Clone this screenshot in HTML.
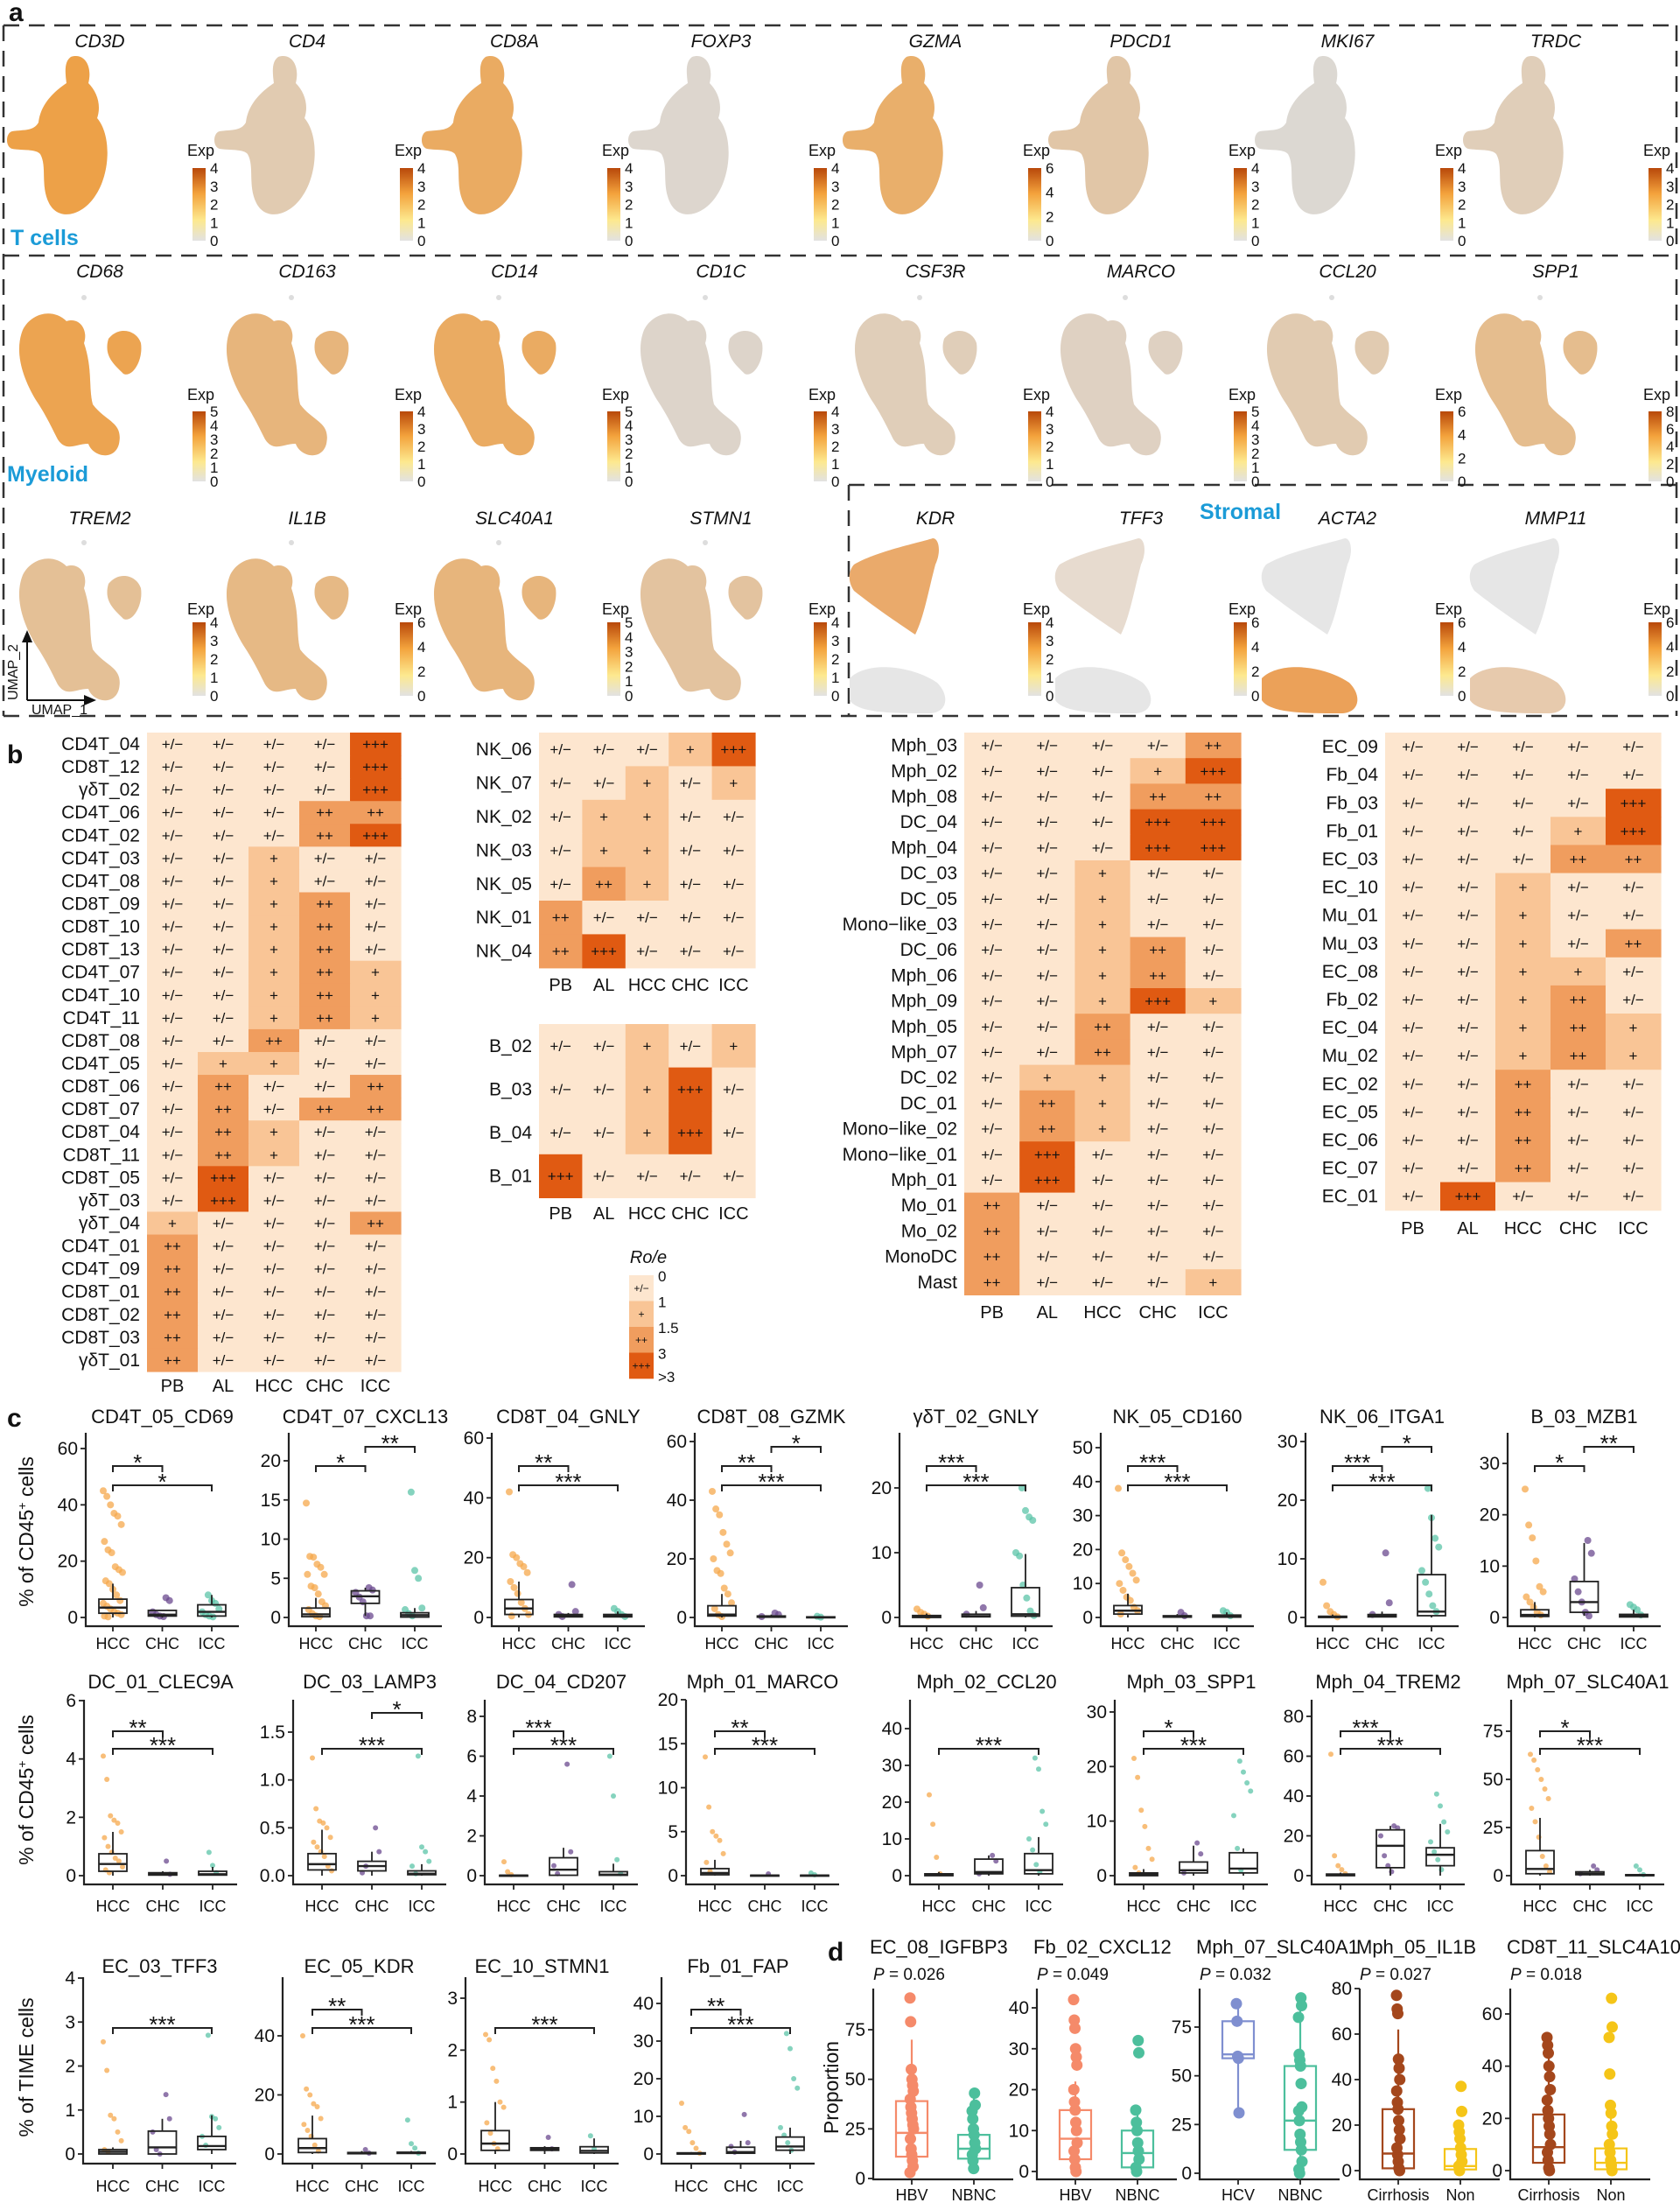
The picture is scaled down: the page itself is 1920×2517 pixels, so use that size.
<!DOCTYPE html>
<html>
<head>
<meta charset="utf-8">
<style>
html,body{margin:0;padding:0;background:#fff;}
svg{display:block;}
text{font-family:"Liberation Sans",Arial,sans-serif;}
</style>
</head>
<body>
<svg id="fig" xmlns="http://www.w3.org/2000/svg" width="1920" height="2517" viewBox="0 0 1920 2517">
<defs>
<linearGradient id="cbar" x1="0" y1="1" x2="0" y2="0">
<stop offset="0" stop-color="#e2e2e2"/><stop offset="0.28" stop-color="#fde98f"/><stop offset="0.65" stop-color="#f3a23c"/><stop offset="1" stop-color="#b8480a"/>
</linearGradient>
</defs>
</svg>
<script>
// ================= DATA =================
// Panel a
const aRow1Genes = ['CD3D','CD4','CD8A','FOXP3','GZMA','PDCD1','MKI67','TRDC'];
const aRow1Max = [4,4,4,4,6,4,4,4];
const aRow1Int = [0.85,0.25,0.7,0.08,0.65,0.3,0.05,0.2];
const aRow2Genes = ['CD68','CD163','CD14','CD1C','CSF3R','MARCO','CCL20','SPP1'];
const aRow2Max = [5,4,5,4,4,5,6,8];
const aRow2Int = [0.8,0.55,0.7,0.1,0.2,0.15,0.25,0.45];
const aRow3Genes = ['TREM2','IL1B','SLC40A1','STMN1','KDR','TFF3','ACTA2','MMP11'];
const aRow3Max = [4,6,5,4,4,6,6,6];
const aRow3Int = [0.4,0.5,0.55,0.35,0.65,0.12,0.75,0.3];
const aRow3Region = ['','','','','top','top','bottom','bottom'];

// Panel b heatmaps (0:+/-, 1:+, 2:++, 3:+++)
const hmCols = ['PB','AL','HCC','CHC','ICC'];
const hmT_rows = ['CD4T_04','CD8T_12','γδT_02','CD4T_06','CD4T_02','CD4T_03','CD4T_08','CD8T_09','CD8T_10','CD8T_13','CD4T_07','CD4T_10','CD4T_11','CD8T_08','CD4T_05','CD8T_06','CD8T_07','CD8T_04','CD8T_11','CD8T_05','γδT_03','γδT_04','CD4T_01','CD4T_09','CD8T_01','CD8T_02','CD8T_03','γδT_01'];
const hmT_vals = [[0,0,0,0,3],[0,0,0,0,3],[0,0,0,0,3],[0,0,0,2,2],[0,0,0,2,3],[0,0,1,0,0],[0,0,1,0,0],[0,0,1,2,0],[0,0,1,2,0],[0,0,1,2,0],[0,0,1,2,1],[0,0,1,2,1],[0,0,1,2,1],[0,0,2,0,0],[0,1,1,0,0],[0,2,0,0,2],[0,2,0,2,2],[0,2,1,0,0],[0,2,1,0,0],[0,3,0,0,0],[0,3,0,0,0],[1,0,0,0,2],[2,0,0,0,0],[2,0,0,0,0],[2,0,0,0,0],[2,0,0,0,0],[2,0,0,0,0],[2,0,0,0,0]];
const hmNK_rows = ['NK_06','NK_07','NK_02','NK_03','NK_05','NK_01','NK_04'];
const hmNK_vals = [[0,0,0,1,3],[0,0,1,0,1],[0,1,1,0,0],[0,1,1,0,0],[0,2,1,0,0],[2,0,0,0,0],[2,3,0,0,0]];
const hmB_rows = ['B_02','B_03','B_04','B_01'];
const hmB_vals = [[0,0,1,0,1],[0,0,1,3,0],[0,0,1,3,0],[3,0,0,0,0]];
const hmM_rows = ['Mph_03','Mph_02','Mph_08','DC_04','Mph_04','DC_03','DC_05','Mono−like_03','DC_06','Mph_06','Mph_09','Mph_05','Mph_07','DC_02','DC_01','Mono−like_02','Mono−like_01','Mph_01','Mo_01','Mo_02','MonoDC','Mast'];
const hmM_vals = [[0,0,0,0,2],[0,0,0,1,3],[0,0,0,2,2],[0,0,0,3,3],[0,0,0,3,3],[0,0,1,0,0],[0,0,1,0,0],[0,0,1,0,0],[0,0,1,2,0],[0,0,1,2,0],[0,0,1,3,1],[0,0,2,0,0],[0,0,2,0,0],[0,1,1,0,0],[0,2,1,0,0],[0,2,1,0,0],[0,3,0,0,0],[0,3,0,0,0],[2,0,0,0,0],[2,0,0,0,0],[2,0,0,0,0],[2,0,0,0,1]];
const hmS_rows = ['EC_09','Fb_04','Fb_03','Fb_01','EC_03','EC_10','Mu_01','Mu_03','EC_08','Fb_02','EC_04','Mu_02','EC_02','EC_05','EC_06','EC_07','EC_01'];
const hmS_vals = [[0,0,0,0,0],[0,0,0,0,0],[0,0,0,0,3],[0,0,0,1,3],[0,0,0,2,2],[0,0,1,0,0],[0,0,1,0,0],[0,0,1,0,2],[0,0,1,1,0],[0,0,1,2,0],[0,0,1,2,1],[0,0,1,2,1],[0,0,2,0,0],[0,0,2,0,0],[0,0,2,0,0],[0,0,2,0,0],[0,3,0,0,0]];
const legendLabels = ['0','1','1.5','3','>3'];

// Panel c row 1
const cGroups = ['HCC','CHC','ICC'];
const cR1_titles = ['CD4T_05_CD69','CD4T_07_CXCL13','CD8T_04_GNLY','CD8T_08_GZMK','γδT_02_GNLY','NK_05_CD160','NK_06_ITGA1','B_03_MZB1'];
const cR1_ticks = [[0,20,40,60],[0,5,10,15,20],[0,20,40,60],[0,20,40,60],[0,10,20],[0,10,20,30,40,50],[0,10,20,30],[0,10,20,30]];
const cR1_stats = [
 [[0,1.5,3.5,6.5,12],[0,0.5,1,2.5,2.5],[0,0.5,2,4.5,8]],
 [[0,0.1,0.4,1.2,2.5],[0.2,1.8,2.7,3.4,3.8],[0,0.05,0.3,0.6,1.2]],
 [[0,1,3,6,12],[0,0.2,0.5,1,1.5],[0,0.2,0.5,1,2]],
 [[0,0.5,1,4,8],[0,0.1,0.3,0.5,1],[0,0,0.1,0.2,0.3]],
 [[0,0,0.1,0.3,0.6],[0,0.1,0.2,0.5,1],[0,0.2,0.5,4.6,9.8]],
 [[0,1,2,3.5,7],[0,0.1,0.3,0.5,1],[0,0.1,0.4,0.7,1.5]],
 [[0,0,0.1,0.2,0.5],[0,0.1,0.3,0.5,1],[0,0.3,1,7.3,17.5]],
 [[0,0.2,0.5,1.5,3],[0.3,1,3,7,14.5],[0,0.1,0.3,0.6,1.5]]];
const cR1_points = [
 [[45,43,40,37,36,33,27,24,23,18,17,16,13,12,10,8,6,5,4,3,2,1.5,1,0.5,0.2],[7,6,2,1,0.5,0.3],[8,6,5,3,2,1,0.5,0.2]],
 [[14.6,7.8,7.7,6.8,6.4,5.5,5.5,4,3.8,3,2,1.5,1,0.5,0.2,0.1],[3.8,3.5,3.2,2.6,2,0.2,0.2],[16,6,5,1.2,1,0.5,0.2]],
 [[42,21,20,18,17,15,12,10,8,5,3,1,0.5],[11,2,1,0.3],[3,2,1,0.3]],
 [[43,37,35,29,25,22,20,16,15,10,8,5,3,1,0.3],[1.5,1,0.3],[0.4,0.1]],
 [[1.3,0.8,0.5,0.2],[5,1.5,0.5],[20,16.5,15.5,15,10,9.5,5,3,1,0.3]],
 [[38,19,17,15,13,11,10,8,6,5,3,2,1],[1.5,0.5],[2,1.5,0.5]],
 [[6,2,1,0.5,0.1],[11,2.5,0.5],[22,17,13.5,12,8,6,4,2,1]],
 [[25,18,15.5,11,6,5,4,3,2,1,0.5],[15,12.5,7.5,5,3,1,0.3],[2.5,2,1.5,0.5]]];
const cR1_sigs = [
 [[0,1,'*',1],[0,2,'*',0]],
 [[0,1,'*',1],[1,2,'**',2]],
 [[0,1,'**',1],[0,2,'***',0]],
 [[0,1,'**',1],[1,2,'*',2],[0,2,'***',0]],
 [[0,1,'***',1],[0,2,'***',0]],
 [[0,1,'***',1],[0,2,'***',0]],
 [[0,1,'***',1],[1,2,'*',2],[0,2,'***',0]],
 [[0,1,'*',1],[1,2,'**',2]]];

// Panel c row 2
const cR2_titles = ['DC_01_CLEC9A','DC_03_LAMP3','DC_04_CD207','Mph_01_MARCO','Mph_02_CCL20','Mph_03_SPP1','Mph_04_TREM2','Mph_07_SLC40A1'];
const cR2_ticks = [[0,2,4,6],[0,0.5,1,1.5],[0,2,4,6,8],[0,5,10,15,20],[0,10,20,30,40],[0,10,20,30],[0,20,40,60,80],[0,25,50,75]];
const cR2_stats = [
 [[0,0.15,0.4,0.75,1.5],[0,0.02,0.05,0.1,0.15],[0,0.02,0.05,0.15,0.3]],
 [[0,0.06,0.12,0.23,0.48],[0,0.05,0.1,0.15,0.25],[0,0.01,0.02,0.05,0.12]],
 [[0,0,0.01,0.02,0.05],[0,0.02,0.3,0.9,1.4],[0,0.02,0.05,0.2,0.6]],
 [[0,0.1,0.3,0.8,1.8],[0,0,0.02,0.05,0.1],[0,0.01,0.02,0.05,0.1]],
 [[0,0,0.2,0.5,1],[0,0.5,1,4.5,5.5],[0,0.5,1.5,6,10.5]],
 [[0,0,0.2,0.5,1.2],[0,0.5,1,2.5,5.5],[0,0.5,1.3,4.2,5]],
 [[0,0,0.3,0.8,1.5],[0,4,15,23,25],[0,5,10.5,14,26]],
 [[0,1,3.5,13,30],[0,0.5,1,2,3],[0,0,0.2,0.5,1]]];
const cR2_points = [
 [[4.1,3.3,2.05,1.9,1.8,1.5,1.3,1,0.8,0.6,0.5,0.3,0.2,0.1],[0.5,0.05],[0.8,0.35,0.1]],
 [[1.23,0.7,0.57,0.55,0.5,0.4,0.35,0.3,0.25,0.2,0.1,0.05],[0.5,0.25,0.03,0.1],[1.25,0.3,0.25,0.15,0.1,0.02]],
 [[0.7,0.2,0.05],[5.6,1.2,0.5,0.1],[6,4,0.8,0.1]],
 [[13.5,7.8,5,4.5,4,2.5,1.5,0.5],[0.2],[0.3,0.1]],
 [[22,14,5,0.5],[5.5,4,0.5],[32,29,17.5,14,10,7,3,1]],
 [[21.5,18,12,9,5,3,1.5,0.5],[6,4,0.5],[21,19,17,15.5,11,5,1]],
 [[61,10,5,3,1],[25,24,20,10,5,2],[41,35,27,22,17,12,8,3]],
 [[63,60,55,50,45,40,35,28,20,10,5,2],[5,3,1],[5,3,0.5]]];
const cR2_sigs = [
 [[0,1,'**',1],[0,2,'***',0]],
 [[1,2,'*',2],[0,2,'***',0]],
 [[0,1,'***',1],[0,2,'***',0]],
 [[0,1,'**',1],[0,2,'***',0]],
 [[0,2,'***',0]],
 [[0,1,'*',1],[0,2,'***',0]],
 [[0,1,'***',1],[0,2,'***',0]],
 [[0,1,'*',1],[0,2,'***',0]]];

// Panel c row 3
const cR3_titles = ['EC_03_TFF3','EC_05_KDR','EC_10_STMN1','Fb_01_FAP'];
const cR3_ticks = [[0,1,2,3,4],[0,20,40],[0,1,2,3],[0,10,20,30,40]];
const cR3_stats = [
 [[0,0,0.05,0.1,0.15],[0,0,0.15,0.52,0.8],[0,0.1,0.18,0.4,0.88]],
 [[0,0.5,2,5.2,13],[0,0.1,0.3,0.5,1],[0,0.2,0.4,0.6,1]],
 [[0,0.07,0.2,0.45,1],[0,0.07,0.1,0.12,0.15],[0,0.02,0.06,0.14,0.3]],
 [[0,0,0.1,0.3,0.5],[0,0.2,0.5,1.8,3.5],[0,1,2,4.5,7]]];
const cR3_points = [
 [[2.55,1.9,0.88,0.8,0.5,0.3,0.1,0.05],[1.35,0.8,0.5,0.1,0],[2.7,0.85,0.8,0.6,0.4,0.2]],
 [[40,22,20,17,16,12,10,8,6,3,1],[1.5,0.3],[11.5,3.5,2,0.3]],
 [[2.3,2.2,1.65,1.4,1,0.9,0.6,0.4,0.2,0.1],[0.32,0.1],[0.35,0.1]],
 [[13.5,7,6,3,1.5,0.2],[10.5,3,2,0.5],[32,28,20,17.5,7,5,3,1]]];
const cR3_sigs = [
 [[0,2,'***',0]],
 [[0,1,'**',1],[0,2,'***',0]],
 [[0,2,'***',0]],
 [[0,1,'**',1],[0,2,'***',0]]];

// Panel d
const dTitles = ['EC_08_IGFBP3','Fb_02_CXCL12','Mph_07_SLC40A1','Mph_05_IL1B','CD8T_11_SLC4A10'];
const dPvals = ['0.026','0.049','0.032','0.027','0.018'];
const dGroups = [['HBV','NBNC'],['HBV','NBNC'],['HCV','NBNC'],['Cirrhosis','Non'],['Cirrhosis','Non']];
const dTicks = [[0,25,50,75],[0,10,20,30,40],[0,25,50,75],[0,20,40,60,80],[0,20,40,60]];
const dStats = [
 [[3,11,23,39,70],[5,10,15,22,43]],
 [[0,3,8,15,22],[0,1,4.5,10,15]],
 [[31,59,61,78,87],[0,12,27,55,90]],
 [[0,1,7.5,27,62],[0,0.5,2,9.5,20]],
 [[0,3,9,21.5,51],[0,0.5,3,8.5,20]]];
const dPoints = [
 [[91,79,55,50,47,44,40,36,33,30,27,25,20,15,12,9,6,3],[43,37,34,30,25,22,18,15,12,9,5]],
 [[42,37,35,30,28,26,20,17,15,12,10,7,5,3,1,0],[32,29,15,12,10,7,5,3,1,0]],
 [[87,78,60,59,31],[90,86,80,61,58,55,46,34,32,27,20,16,12,6,2,0]],
 [[77,71,69,49,45,40,35,30,27,22,18,14,10,7,4,1,0],[37,26,20,17,14,10,7,4,2,0]],
 [[51,48,45,40,36,31,27,23,20,17,14,10,7,4,1,0],[66,55,51,37,25,22,17,14,10,7,4,2,0]]];

// ================= DRAW =================
const NS = 'http://www.w3.org/2000/svg';
const svg = document.getElementById('fig');
function mk(tag, attrs, parent){
  const e = document.createElementNS(NS, tag);
  for (const k in attrs) e.setAttribute(k, attrs[k]);
  (parent || svg).appendChild(e);
  return e;
}
function txt(x, y, s, size, anchor, parent, extra){
  const t = mk('text', Object.assign({x:x, y:y, 'font-size':size, 'text-anchor':anchor||'start', fill:'#111'}, extra||{}), parent);
  t.textContent = s;
  return t;
}

// ---------- Panel labels ----------
[['a',10,24],['b',8,872],['c',8,1630],['d',946,2240]].forEach(p=>{
  const t = txt(p[1], p[2], p[0], 30, 'start', svg, {'font-weight':'bold'});
  
  
});

// ---------- Panel a ----------
const gA = mk('g', {});


const dashAttr = {stroke:'#333', 'stroke-width':2.5, 'stroke-dasharray':'18 11', fill:'none'};
[['M4,29 H1916'],['M4,292 H1916'],['M970,554 H1916'],['M4,818 H1916'],['M4,29 V818'],['M1916,29 V818'],['M970,554 V818']].forEach((d,i)=>{
  const p = mk('path', Object.assign({d:d[0]}, dashAttr), gA);
  
  
});
const colCenters = [114,351,588,824,1069,1304,1540,1778];
const tPath = "M75,5 C90,0 100,15 95,35 C105,45 110,60 105,75 C122,95 120,140 102,165 C86,188 60,192 50,172 C40,152 48,130 40,116 C35,110 20,112 8,110 C0,108 0,92 8,90 C22,88 32,90 38,80 C40,60 55,45 70,35 C68,20 68,10 75,5 Z";
const mPath = "M20,45 C30,25 55,20 70,35 C85,30 95,45 90,60 C100,90 95,110 100,130 C115,150 135,150 130,175 C125,195 100,190 95,175 C80,175 70,185 60,170 C50,150 45,140 35,125 C20,100 10,70 20,45 Z M118,55 C130,40 150,45 155,60 C158,80 145,100 135,95 C125,85 112,75 118,55 Z";
const sTop = "M15,30 C40,15 90,5 105,0 C112,0 115,15 108,30 C100,60 95,90 85,110 C70,100 40,80 15,60 C8,50 8,38 15,30 Z";
const sBot = "M10,160 C30,140 80,145 110,165 C125,180 122,200 100,200 C60,200 20,200 10,185 Z";

function colorbar(cx, top, bot, expY, max, gene){
  const g = mk('g', {}, gA);
  
  
  txt(cx+100, expY, 'Exp', 18, 'start', g);
  mk('rect', {x:cx+106, y:top, width:15, height:bot-top, fill:'url(#cbar)'}, g);
  const step = max > 4 && max % 2 === 0 && max !== 4 ? 2 : 1;
  for (let v = 0; v <= max; v += step){
    const y = bot - (v/max)*(bot-top);
    txt(cx+126, y+6, String(v), 17, 'start', g);
  }
}
function umap(cx, oy, path, intensity, gene, kind, region){
  const g = mk('g', {transform:'translate(' + (cx-108) + ',' + oy + ')'}, gA);
  
  
  if (kind === 's'){
    mk('path', {d:sTop, fill:'#e6e6e6'}, g);
    mk('path', {d:sBot, fill:'#e6e6e6'}, g);
    mk('path', {d: region==='top'? sTop : sBot, fill:'#ec8a2a', 'fill-opacity':intensity}, g);
  } else {
    mk('path', {d:path, fill:'#dcdcdc'}, g);
    mk('path', {d:path, fill:'#f0962e', 'fill-opacity':intensity}, g);
    if (kind === 'm') mk('circle', {cx:90, cy:8, r:3, fill:'#ddd'}, g);
  }
}
aRow1Genes.forEach((gname,i)=>{
  const cx = colCenters[i];
  const t = txt(cx, 54, gname, 21, 'middle', gA, {'font-style':'italic'});
  
  
  umap(cx, 60, tPath, aRow1Int[i], gname, 't');
  colorbar(cx, 192, 275, 178, aRow1Max[i], gname);
});
aRow2Genes.forEach((gname,i)=>{
  const cx = colCenters[i];
  const t = txt(cx, 317, gname, 21, 'middle', gA, {'font-style':'italic'});
  
  
  umap(cx, 332, mPath, aRow2Int[i], gname, 'm');
  colorbar(cx, 470, 550, 457, aRow2Max[i], gname);
});
aRow3Genes.forEach((gname,i)=>{
  const cx = colCenters[i];
  const t = txt(cx, 599, gname, 21, 'middle', gA, {'font-style':'italic'});
  
  
  if (aRow3Region[i]) umap(cx, 615, null, aRow3Int[i], gname, 's', aRow3Region[i]);
  else umap(cx, 612, mPath, aRow3Int[i], gname, 'm');
  colorbar(cx, 711, 795, 702, aRow3Max[i], gname);
});
[['T cells',12,280],['Myeloid',8,550],['Stromal',1371,593]].forEach(l=>{
  const t = txt(l[1], l[2], l[0], 25, 'start', gA, {fill:'#1b9bd7', 'font-weight':'bold'});
  
  
});
const ax = mk('path', {d:'M31,800 V726 M31,800 H104', stroke:'#111', 'stroke-width':2, fill:'none'}, gA);


mk('path', {d:'M25,734 L31,720 L37,734 Z M96,794 L110,800 L96,806 Z', fill:'#111'}, gA);
txt(20, 800, 'UMAP_2', 16, 'start', gA, {transform:'rotate(-90 20 800)'});
txt(36, 816, 'UMAP_1', 16, 'start', gA);

// ---------- Panel b heatmaps ----------
const hmColors = ['#fde6cf','#f9c596','#f09d5e','#e05a12'];
const hmText = ['+/−','+','++','+++'];
function heatmap(name, rows, vals, x0, y0, cw, rh, colLabelY){
  const g = mk('g', {});
  
  
  rows.forEach((r, ri)=>{
    const y = y0 + ri*rh;
    const lab = txt(x0-8, y + rh/2 + 7, r, 21, 'end', g);
    
    
    vals[ri].forEach((v, ci)=>{
      const x = x0 + ci*cw;
      const c = mk('rect', {x:x, y:y, width:cw+0.6, height:rh+0.6, fill:hmColors[v]}, g);
      
      
      txt(x + cw/2, y + rh/2 + 6, hmText[v], 17, 'middle', g);
    });
  });
  hmCols.forEach((c, ci)=>{
    const t = txt(x0 + ci*cw + cw/2, colLabelY, c, 20, 'middle', g);
    
    
  });
}
heatmap('t-cells', hmT_rows, hmT_vals, 168, 837, 58, 26.07, 1590);
heatmap('nk', hmNK_rows, hmNK_vals, 616, 837, 49.4, 38.4, 1132);
heatmap('b-cells', hmB_rows, hmB_vals, 616, 1170, 49.4, 49.6, 1393);
heatmap('myeloid', hmM_rows, hmM_vals, 1102, 837, 63.2, 29.2, 1506);
heatmap('stromal', hmS_rows, hmS_vals, 1583, 837, 63, 32.1, 1410);
(function(){
  const g = mk('g', {});
  
  
  txt(741, 1443, 'Ro/e', 20, 'middle', g, {'font-style':'italic'});
  for (let i=0;i<4;i++){
    const y = 1457 + i*29.5;
    mk('rect', {x:719, y:y, width:28, height:29.8, fill:hmColors[i]}, g);
    txt(733, y+19, hmText[i], 12, 'middle', g);
  }
  legendLabels.forEach((l,i)=>{
    const y = i < 4 ? 1457 + i*29.5 : 1572;
    txt(752, y+7, l, 17, 'start', g);
  });
})();

// ---------- Box plots ----------
const grpColors = ['#f5a84c','#6b4a8f','#5cc4a8'];
function boxPanel(o){
  const g = mk('g', {});
  
  
  const top = o.ticks[o.ticks.length-1];
  const yS = v => o.zeroY - (v/top)*(o.zeroY - o.topY);
  const xG = i => o.axisX + o.offset + i*o.spacing;
  const dec = o.ticks.some(t => t % 1 !== 0);
  // title
  const tt = txt(o.titleX !== undefined ? o.titleX : o.axisX + o.axisLen/2, o.titleY, o.title, 22, o.titleX !== undefined ? 'start' : 'middle', g);
  
  
  // axes
  const axes = mk('path', {d:'M' + o.axisX + ',' + o.axisTop + ' V' + o.axisBottom + ' H' + (o.axisX + o.axisLen), stroke:'#222', 'stroke-width':2.2, fill:'none'}, g);
  
  
  o.ticks.forEach(t=>{
    const y = yS(t);
    mk('line', {x1:o.axisX-6, x2:o.axisX, y1:y, y2:y, stroke:'#222', 'stroke-width':1.8}, g);
    const lab = txt(o.axisX-9, y+7, dec ? t.toFixed(1) : String(t), 21, 'end', g);
    
    
  });
  o.groups.forEach((gn,i)=>{
    const x = xG(i);
    mk('line', {x1:x, x2:x, y1:o.axisBottom, y2:o.axisBottom+6, stroke:'#222', 'stroke-width':1.8}, g);
    const lab = txt(x, o.labelsY, gn, o.labelSize || 18, 'middle', g);
    
    
  });
  // points
  o.points.forEach((pts, gi)=>{
    pts.forEach((v, pi)=>{
      const j = (((pi*37 + gi*11) % 17) - 8) / 8 * o.jitter;
      const c = mk('circle', {cx:xG(gi)+j, cy:yS(v), r:o.pr, fill:o.colors[gi], 'fill-opacity':o.pOpacity}, g);
      
      
    });
  });
  // boxes
  o.stats.forEach((s, gi)=>{
    const x = xG(gi), hw = o.boxHalf;
    const col = o.colored ? o.colors[gi] : '#222';
    const bg = mk('g', {stroke:col, 'stroke-width':o.colored?2.2:1.8, fill:'none'}, g);
    
    
    mk('line', {x1:x, x2:x, y1:yS(s[0]), y2:yS(s[1])}, bg);
    mk('line', {x1:x, x2:x, y1:yS(s[3]), y2:yS(s[4])}, bg);
    mk('rect', {x:x-hw, y:yS(s[3]), width:2*hw, height:Math.max(1, yS(s[1])-yS(s[3]))}, bg);
    mk('line', {x1:x-hw, x2:x+hw, y1:yS(s[2]), y2:yS(s[2]), 'stroke-width':2.4}, bg);
  });
  // significance
  (o.sigs||[]).forEach(s=>{
    const x1 = xG(s[0]), x2 = xG(s[1]), y = o.tiers[s[3]];
    const br = mk('path', {d:'M' + x1 + ',' + (y+7) + ' V' + y + ' H' + x2 + ' V' + (y+7), stroke:'#222', 'stroke-width':2, fill:'none'}, g);
    
    
    txt((x1+x2)/2, y+5, s[2], 26, 'middle', g);
  });
}
const r1AxisX = [98,330,562,794,1028,1258,1492,1723];
const r1TopY = [1655,1669,1643,1647,1700,1654,1647,1672];
cR1_titles.forEach((t,i)=>boxPanel({title:t, ticks:cR1_ticks[i], stats:cR1_stats[i], points:cR1_points[i], sigs:cR1_sigs[i], groups:cGroups, colors:grpColors,
  axisX:r1AxisX[i], zeroY:1848, topY:r1TopY[i], axisTop:1637, axisBottom:1858, axisLen:175, offset:31, spacing:56.5, titleY:1626, labelsY:1884,
  tiers:[1697,1675,1653], boxHalf:16, pr:4, jitter:11, pOpacity:0.75}));
const r2AxisX = [96,335,554,784,1040,1274,1499,1727];
const r2TopY = [1943,1979,1961,1942,1975,1956,1961,1978];
cR2_titles.forEach((t,i)=>boxPanel({title:t, ticks:cR2_ticks[i], stats:cR2_stats[i], points:cR2_points[i], sigs:cR2_sigs[i], groups:cGroups, colors:grpColors,
  axisX:r2AxisX[i], zeroY:2143, topY:r2TopY[i], axisTop:1942, axisBottom:2153, axisLen:175, offset:33, spacing:57, titleY:1929, labelsY:2184,
  tiers:[1998,1978,1957], boxHalf:16, pr:3, jitter:11, pOpacity:0.75}));
const r3AxisX = [95,323,532,756];
const r3TopY = [2260,2326,2283,2289];
cR3_titles.forEach((t,i)=>boxPanel({title:t, ticks:cR3_ticks[i], stats:cR3_stats[i], points:cR3_points[i], sigs:cR3_sigs[i], groups:cGroups, colors:grpColors,
  axisX:r3AxisX[i], zeroY:2461, topY:r3TopY[i], axisTop:2259, axisBottom:2472, axisLen:175, offset:34, spacing:56.5, titleY:2254, labelsY:2504,
  tiers:[2317,2296], boxHalf:16, pr:3, jitter:11, pOpacity:0.75}));
const dAxisX = [998,1185,1371,1554,1726];
const dZeroY = [2489,2481,2483,2480,2480];
const dTopY = [2319,2294,2316,2272,2301];
const dColors = [['#f58a6a','#4cbf9c'],['#f58a6a','#4cbf9c'],['#7f8fd0','#4cbf9c'],['#a4471c','#f5c518'],['#a4471c','#f5c518']];
dTitles.forEach((t,i)=>{
  boxPanel({title:t, ticks:dTicks[i], stats:dStats[i], points:dPoints[i], groups:dGroups[i], colors:dColors[i],
    axisX:dAxisX[i], zeroY:dZeroY[i], topY:dTopY[i], axisTop:2272, axisBottom:2490, axisLen:160, offset:44, spacing:71,
    titleX:dAxisX[i]-4, titleY:2232, labelsY:2514, labelSize:18, tiers:[], boxHalf:18, pr:6.5, jitter:2, pOpacity:1, colored:true});
  const p = mk('text', {x:dAxisX[i], y:2262, 'font-size':19, fill:'#111'});
  
  
  const ti = mk('tspan', {'font-style':'italic'}, p); ti.textContent = 'P';
  const tv = mk('tspan', {}, p); tv.textContent = ' = ' + dPvals[i];
});

// y-axis titles
function yTitle(x, y, parts, name){
  const t = mk('text', {x:x, y:y, 'font-size':23, 'text-anchor':'middle', fill:'#111', transform:'rotate(-90 ' + x + ' ' + y + ')'});
  
  
  parts.forEach(p=>{
    const s = mk('tspan', p[1] ? {'baseline-shift':'super', 'font-size':14} : {}, t);
    s.textContent = p[0];
  });
}
yTitle(38, 1750, [['% of CD45'],['+',1],[' cells']], 'y-axis-title-row1');
yTitle(38, 2045, [['% of CD45'],['+',1],[' cells']], 'y-axis-title-row2');
yTitle(38, 2362, [['% of TIME cells']], 'y-axis-title-row3');
yTitle(958, 2385, [['Proportion']], 'y-axis-title-panel-d');
</script>
</body>
</html>
